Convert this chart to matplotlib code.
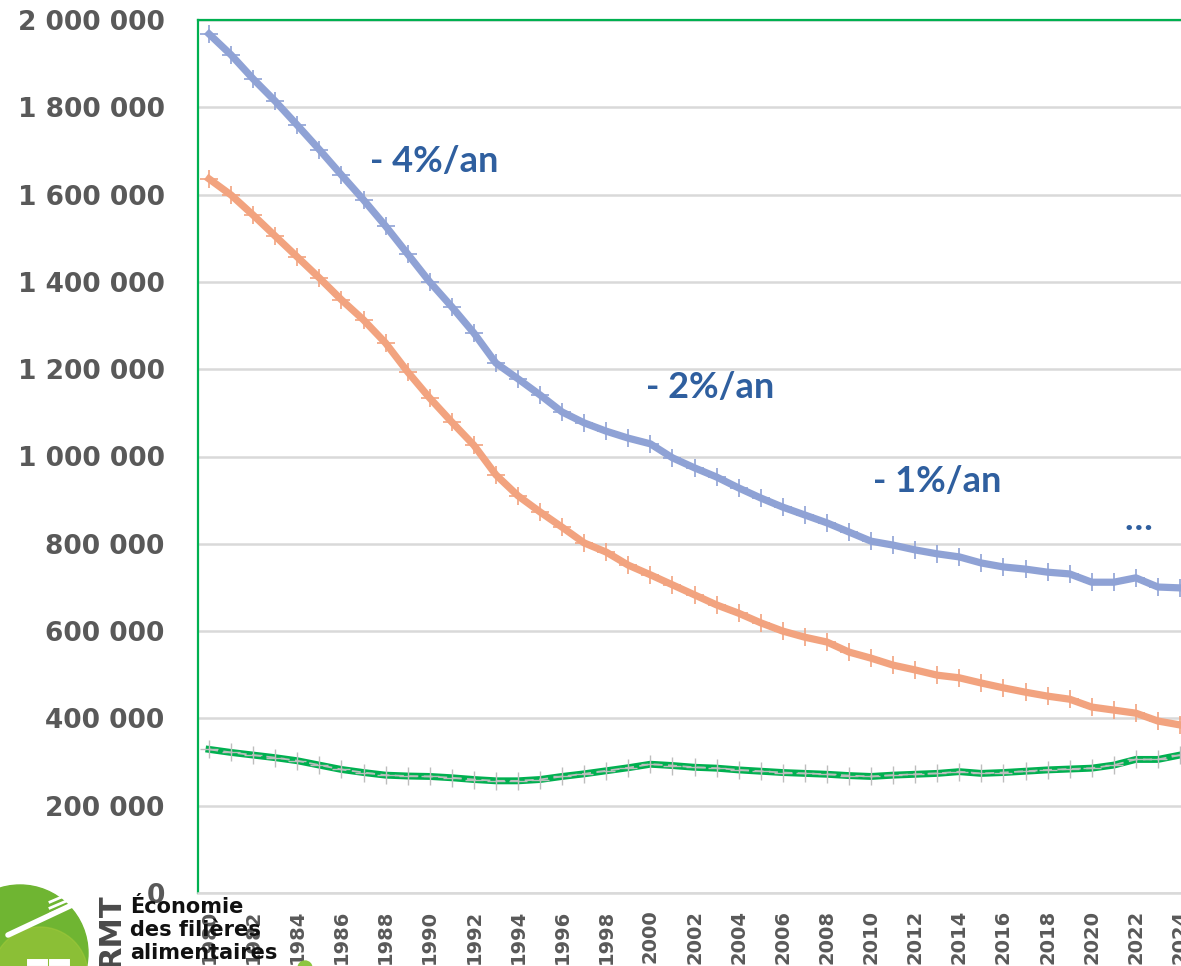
import matplotlib
matplotlib.use("Agg")
import matplotlib.pyplot as plt
from matplotlib.patches import Circle
from matplotlib.ticker import FuncFormatter, MultipleLocator

years = list(range(1980, 2025))

# in thousands
blue = [1968, 1920, 1865, 1814, 1759, 1703, 1645, 1588, 1528, 1464, 1400, 1343, 1283, 1214, 1178,
        1141, 1102, 1077, 1058, 1042, 1029, 997, 974, 953, 928, 905, 884, 866,
        848, 827, 806, 797, 786, 777, 770, 756, 747, 742, 735, 731, 712, 712, 722, 701, 699]
orange = [1636, 1599, 1553, 1505, 1457, 1409, 1359, 1313, 1260, 1194, 1134, 1079, 1026, 958, 910,
          873, 838, 802, 781, 751, 729, 706, 683, 660, 641, 619, 600, 586,
          575, 552, 538, 522, 511, 499, 493, 481, 470, 460, 451, 444, 426, 419, 412, 394, 385]
green = [329, 322, 316, 310, 303, 293, 283, 276, 270, 268, 267, 264, 260, 257, 257,
         260, 267, 273, 280, 287, 295, 292, 288, 286, 282, 279, 276, 274, 272, 269,
         267, 270, 272, 274, 278, 274, 276, 279, 282, 284, 286, 293, 306, 306, 316]

rates = ["- 4%/an", "- 2%/an", "- 1%/an", "…"]
logo_lines = ["Économie", "des filières", "alimentaires"]

W, H = 1181, 966
GRID = "#D9D9D9"
TXT = "#595959"
LBL = "#2F5F9F"


def thousands(v, pos):
  return "{:,}".format(int(v)).replace(",", " ")


def draw_chart(fig):
  ax = fig.add_axes([198 / W, 1 - 893 / H, (1191 - 198) / W, (893 - 20) / H])
  ys = lambda s: [v * 1000 for v in s]

  ax.plot(years, ys(blue), color="#8FA2D5", lw=5.2, marker="+", ms=13,
          mew=1.2, mec="#8FA2D5", solid_joinstyle="round", zorder=4)
  ax.plot(years, ys(orange), color="#F2A37F", lw=5.2, marker="+", ms=13,
          mew=1.2, mec="#F2A37F", solid_joinstyle="round", zorder=4)
  ax.plot(years, ys(green), color="#00B050", lw=5.0, solid_joinstyle="round", zorder=4)
  ax.plot(years, ys(green), color="#BDBDBD", lw=1.3, ls=(0, (5, 3)), marker="+", ms=13,
          mew=1.0, mec="#BDBDBD", zorder=5)

  ax.set_xlim(1979.5, 2024.5)
  ax.set_ylim(0, 2000000)
  ax.yaxis.set_major_locator(MultipleLocator(200000))
  ax.yaxis.set_major_formatter(FuncFormatter(thousands))
  ax.set_xticks(years[::2])
  ax.grid(axis="y", color=GRID, lw=1.8, zorder=0)
  ax.set_axisbelow(True)

  ax.tick_params(axis="y", length=0, pad=24, labelsize=19, labelcolor=TXT)
  ax.tick_params(axis="x", length=0, pad=12, labelsize=14, labelcolor=TXT, labelrotation=90)
  for t in ax.get_yticklabels() + ax.get_xticklabels():
    t.set_fontweight("bold")

  for side in ["left", "top", "right"]:
    ax.spines[side].set_color("#00B050")
    ax.spines[side].set_linewidth(1.6)
  ax.spines["bottom"].set_color(GRID)
  ax.spines["bottom"].set_linewidth(1.8)

  spots = [(1990.2, 1675000), (2002.7, 1157000), (2013.0, 942000), (2022.1, 855000)]
  for txt, (x, y) in zip(rates, spots):
    ax.text(x, y, txt, color=LBL, fontsize=26, fontweight="bold", family="Lato",
            ha="center", va="center", zorder=6)
  return ax


def draw_logo(fig):
  # overlay in pixel coordinates for the logo at the bottom left
  lg = fig.add_axes([0, 0, 1, 1])
  lg.set_xlim(0, W)
  lg.set_ylim(H, 0)
  lg.axis("off")
  lg.add_patch(Circle((20, 953), 68, color="#6FB532", zorder=1))
  lg.add_patch(Circle((40, 975), 48, color="#A3C93A", alpha=0.55, zorder=1))
  # rough fork
  lg.plot([8, 72], [935, 905], color="white", lw=4, solid_capstyle="round", zorder=2)
  for dy in [-6, 0, 6]:
    lg.plot([50, 78], [908 + dy, 896 + dy], color="white", lw=2, zorder=2)
  lg.plot([30, 44, None, 52, 66], [962, 962, None, 962, 962], color="white", lw=5, zorder=2)
  lg.add_patch(Circle((305, 968), 7, color="#8DC63F", zorder=2))
  lg.text(125, 968, "RMT", rotation=90, fontsize=22, fontweight="bold", color="#4A4A4A",
          ha="right", va="bottom", zorder=3)
  for i, line in enumerate(logo_lines):
    lg.text(130, 907 + i * 23, line, fontsize=15, fontweight="bold", color="#111111",
            ha="left", va="center", zorder=3)


def main():
  fig = plt.figure(figsize=(W / 100, H / 100), dpi=100)
  fig.patch.set_facecolor("white")
  draw_chart(fig)
  draw_logo(fig)
  fig.savefig("out.png", dpi=100)
  plt.close(fig)


if __name__ == "__main__":
  main()
